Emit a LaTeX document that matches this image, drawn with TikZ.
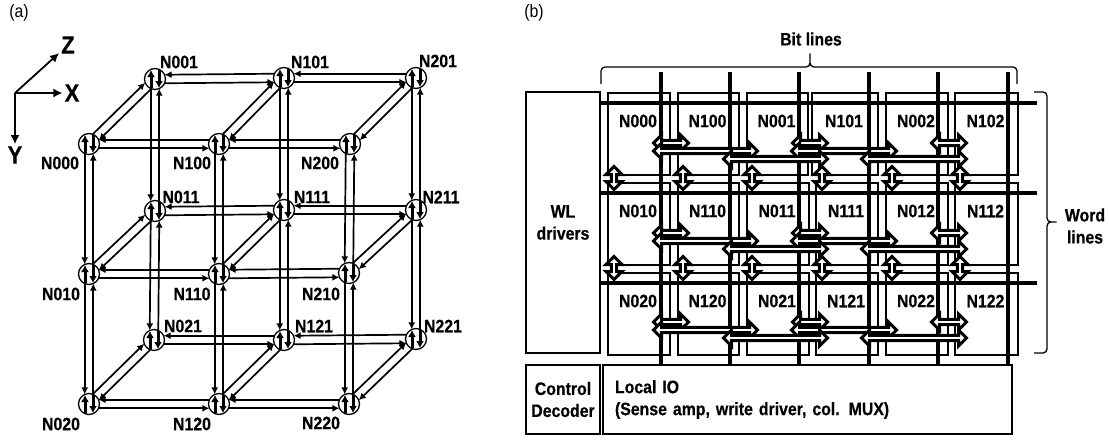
\documentclass[tikz,border=0pt]{standalone}
\usepackage{fontspec}
\setmainfont[FakeStretch=0.88,BoldFeatures={FakeStretch=0.88,FakeBold=0.5}]{Liberation Sans}
\usepackage{tikz}
\usetikzlibrary{shapes.arrows, arrows.meta}
\newcommand{\lblfont}{\fontsize{18}{22}\selectfont\bfseries}
\tikzstyle{router} = [circle, draw=black, line width=1.3pt, minimum size=21pt, inner sep=0pt, outer sep=0pt]
\tikzstyle{nodename} = [font=\lblfont, inner sep=0pt]
\tikzstyle{tag} = [font=\fontsize{18}{18}\selectfont, inner sep=0pt]
\tikzstyle{axislabel} = [font=\fontsize{25}{25}\selectfont\bfseries, inner sep=2pt]
\tikzstyle{arrow} = [line width=1.7pt,-{Latex[length=7pt,width=7pt]}]
\tikzstyle{axis} = [line width=1.8pt,-{Latex[length=9pt,width=9pt]}]
\tikzstyle{innerarrow} = [line width=3pt,-{Latex[length=7pt,width=8pt]}]
\tikzstyle{block} = [rectangle, draw=black, line width=2.4pt, inner sep=0pt, outer sep=0pt, font=\lblfont, align=center]
\tikzstyle{cellbox} = [rectangle, draw=black, line width=2.4pt, minimum height=82pt, inner sep=0pt, anchor=north west]
\tikzstyle{bitline} = [line width=3.6pt]
\tikzstyle{wordline} = [line width=3.2pt]
\tikzstyle{bracket} = [line width=1.3pt, rounded corners=4pt]
\tikzstyle{dblarrow} = [double arrow, draw=black, fill=white, line width=3pt, minimum width=16pt, double arrow head extend=3.2pt, inner sep=0pt]

\begin{document}
\begin{tikzpicture}[x=1pt, y=-1pt]
        \useasboundingbox (0,0) rectangle (1109,440);

        \node (tagA) [tag] at (19,13) {(a)};
        \node (tagB) [tag] at (534,13) {(b)};

        \coordinate (orig) at (15,93);
        \node (labZ) [axislabel] at (68,45) {Z};
        \node (labX) [axislabel] at (72,93) {X};
        \node (labY) [axislabel] at (15,155) {Y};
        \draw [axis] (orig) -- (labZ);
        \draw [axis] (orig) -- (labX);
        \draw [axis] (orig) -- (labY);

        \foreach \nm/\cx/\cy/\tx/\ty in {
                000/89/144/60/163, 100/219/144/192/163, 200/350/144/320/163,
                001/155/79/179/62, 101/284/78/310/62, 201/416/78/438/61,
                010/89/274/61/294, 110/219/274/192/294, 210/349/273/321/294,
                011/155/211/181/197, 111/284/210/312/197, 211/416/210/441/197,
                020/89/404/61/424, 120/219/404/192/424, 220/349/404/321/423,
                021/154/340/183/326, 121/284/340/314/326, 221/416/339/443/326} {
                \node (N\nm) [router] at (\cx,\cy) {};
                \node (T\nm) [nodename] at (\tx,\ty) {N\nm};
                \draw [innerarrow] ([shift={(-4,9)}]N\nm.center) -- ([shift={(-4,-9)}]N\nm.center);
                \draw [innerarrow] ([shift={(4,-9)}]N\nm.center) -- ([shift={(4,9)}]N\nm.center);
        }

        \foreach \a/\b in {000/100, 100/200, 001/101, 101/201, 010/110, 110/210,
                011/111, 111/211, 020/120, 120/220, 021/121, 121/221} {
                \draw [arrow] (N\b.156) -- (N\a.24);
                \draw [arrow] (N\a.-24) -- (N\b.-156);
        }
        \foreach \a/\b in {000/010, 010/020, 100/110, 110/120, 200/210, 210/220,
                001/011, 011/021, 101/111, 111/121, 201/211, 211/221} {
                \draw [arrow] (N\a.246) -- (N\b.114);
                \draw [arrow] (N\b.66) -- (N\a.294);
        }
        \foreach \a/\b in {000/001, 100/101, 200/201, 010/011, 110/111, 210/211,
                020/021, 120/121, 220/221} {
                \draw [arrow] (N\a.69) -- (N\b.201);
                \draw [arrow] (N\b.249) -- (N\a.21);
        }

        \node (wlBox) [block, minimum width=74pt, minimum height=261pt] at (563,222.5) {WL\\drivers};
        \node (ctrlBox) [block, minimum width=74pt, minimum height=69pt] at (563,399.5) {Control\\Decoder};
        \node (ioBox) [block, minimum width=409pt, minimum height=69pt, text width=385pt, align=left] at (807.5,399.5) {Local IO\\(Sense amp, write driver, col. MUX)};

        \foreach \nm/\xleft/\ytop/\boxw in {
                000/607/92/62, 100/677/92/61, 001/746/92/61, 101/811/92/66, 002/885/92/62, 102/954/92/63,
                010/607/182/62, 110/677/182/61, 011/746/182/62, 111/815/182/62, 012/885/182/62, 112/954/182/63,
                020/607/272/62, 120/677/272/61, 021/746/272/62, 121/815/272/62, 022/885/272/62, 122/954/272/63} {
                \node (cell\nm) [cellbox, minimum width=\boxw pt] at (\xleft,\ytop) {};
                \node (name\nm) [nodename] at ([shift={(\boxw/2,29)}]cell\nm.north west) {N\nm};
        }

        \foreach \i/\xpos in {1/661, 2/730, 3/799, 4/869, 5/938, 6/1008} {
                \coordinate (bl\i) at (\xpos,72);
                \draw [bitline] (bl\i) -- (bl\i |- ioBox.north);
        }
        \foreach \i/\ypos in {1/103, 2/193, 3/283} {
                \coordinate (wl\i) at (1037,\ypos);
                \draw [wordline] (wl\i) -- (wl\i -| wlBox.east);
        }

        \foreach \row/\ybase in {1/143, 2/233, 3/322} {
                \node (sa\row) [dblarrow, minimum height=35pt] at (671,\ybase) {};
                \node (sb\row) [dblarrow, minimum height=35pt] at (810,\ybase) {};
                \node (sc\row) [dblarrow, minimum height=35pt] at (949,\ybase) {};
                \node (la\row) [dblarrow, minimum height=104pt] at (705.5,\ybase+8) {};
                \node (lb\row) [dblarrow, minimum height=105pt] at (844,\ybase+8) {};
                \node (lc\row) [dblarrow, minimum height=104pt] at (775.5,\ybase+16) {};
                \node (ld\row) [dblarrow, minimum height=105pt] at (914,\ybase+16) {};
        }
        \foreach \row/\ymid in {1/178, 2/268} {
                \foreach \i/\xpos in {1/614, 2/683, 3/752, 4/822, 5/892, 6/960} {
                        \node (va\row\i) [dblarrow, minimum height=23pt, rotate=90] at (\xpos,\ymid) {};
                }
        }

        \draw [bracket] (601,84) -- (601,67) -- (810,67) -- (810,51) -- (810,67) -- (1017,67) -- (1017,84);
        \node (bitText) [nodename] at (811,39) {Bit lines};
        \draw [bracket] (1034,92) -- (1047,92) -- (1047,222) -- (1059,222) -- (1047,222) -- (1047,353) -- (1034,353);
        \node (wordText) [nodename, align=center] at (1085,226) {Word\\lines};
\end{tikzpicture}
\end{document}
